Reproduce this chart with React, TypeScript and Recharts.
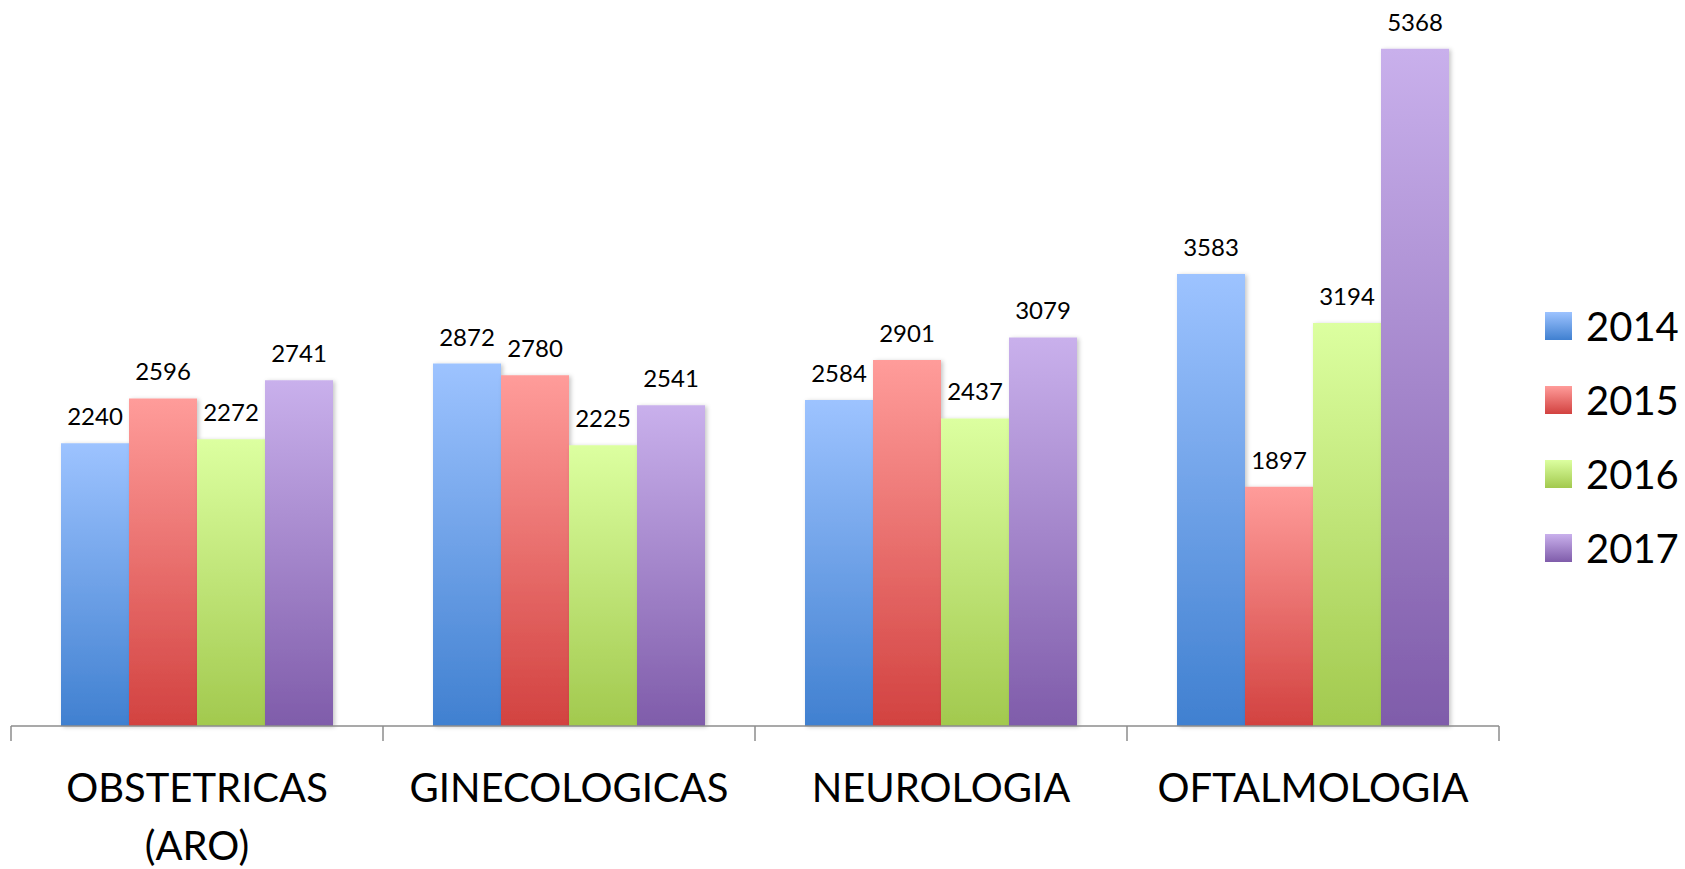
import React from "react";
import { BarChart, Bar, XAxis, YAxis, LabelList } from "recharts";

// data
const categories = ["OBSTETRICAS (ARO)", "GINECOLOGICAS", "NEUROLOGIA", "OFTALMOLOGIA"];
const categoryLines = [["OBSTETRICAS", "(ARO)"], ["GINECOLOGICAS"], ["NEUROLOGIA"], ["OFTALMOLOGIA"]];
const years = ["2014", "2015", "2016", "2017"];
const values2014 = [2240, 2872, 2584, 3583];
const values2015 = [2596, 2780, 2901, 1897];
const values2016 = [2272, 2225, 2437, 3194];
const values2017 = [2741, 2541, 3079, 5368];
const yDomainMax = 5500;

const seriesValues = [values2014, values2015, values2016, values2017];

// top / bottom stops of each bar gradient
const palette = [
  { top: "#9dc3ff", bottom: "#4080d0" },
  { top: "#ff9c9a", bottom: "#d24240" },
  { top: "#dcffa0", bottom: "#a2c94e" },
  { top: "#c9b0ec", bottom: "#7f5caa" },
];

const data = categories.map((name, i) => {
  const row: Record<string, string | number> = { name };
  years.forEach((y, s) => {
    row[y] = seriesValues[s][i];
  });
  return row;
});

const WIDTH = 1685;
const HEIGHT = 869;
const MARGIN = { top: 32, right: 186, left: 11, bottom: 0 };
const PLOT_WIDTH = WIDTH - MARGIN.left - MARGIN.right;
const BAND = PLOT_WIDTH / categories.length;
const FONT = "Lato, 'Open Sans', sans-serif";

function CategoryTick(props: any) {
  const { x, y, index } = props;
  const half = BAND / 2;
  const lines = categoryLines[index] || [];
  const isLast = index === categories.length - 1;
  return (
    <g>
      <line x1={x - half} x2={x - half} y1={y} y2={y + 15} stroke="#8c8c8c" strokeWidth={1.5} />
      {isLast && (
        <line x1={x + half} x2={x + half} y1={y} y2={y + 15} stroke="#8c8c8c" strokeWidth={1.5} />
      )}
      <text x={x} y={y + 76} textAnchor="middle" fontFamily={FONT} fontSize={40} fill="#000">
        {lines.map((l, i) => (
          <tspan key={l} x={x} dy={i === 0 ? 0 : 58}>
            {l}
          </tspan>
        ))}
      </text>
    </g>
  );
}

function LegendBox() {
  return (
    <div
      style={{
        position: "absolute",
        left: 1545,
        top: 306,
        fontFamily: FONT,
        fontSize: 40,
        lineHeight: "40px",
      }}
    >
      {years.map((y, i) => (
        <div key={y} style={{ display: "flex", alignItems: "center", height: 40, marginBottom: 34 }}>
          <div
            style={{
              width: 27,
              height: 28,
              background: `linear-gradient(${palette[i].top}, ${palette[i].bottom})`,
              marginRight: 14,
            }}
          />
          <span style={{ color: "#000" }}>{y}</span>
        </div>
      ))}
    </div>
  );
}

export default function App() {
  return (
    <div style={{ position: "absolute", left: 0, top: 0, width: WIDTH, height: HEIGHT, background: "#fff" }}>
      <BarChart
        width={WIDTH}
        height={HEIGHT}
        data={data}
        margin={MARGIN}
        barCategoryGap={50}
        barGap={0}
      >
        <defs>
          {palette.map((p, i) => (
            <linearGradient key={i} id={`grad${i}`} x1="0" y1="0" x2="0" y2="1">
              <stop offset="0%" stopColor={p.top} />
              <stop offset="100%" stopColor={p.bottom} />
            </linearGradient>
          ))}
          <filter id="barShadow" x="-10%" y="-5%" width="130%" height="110%">
            <feDropShadow dx={2} dy={1} stdDeviation={2} floodColor="#000" floodOpacity={0.22} />
          </filter>
        </defs>
        <XAxis
          dataKey="name"
          axisLine={{ stroke: "#8c8c8c", strokeWidth: 1.5 }}
          tickLine={false}
          tickSize={0}
          tickMargin={0}
          height={143}
          interval={0}
          tick={<CategoryTick />}
        />
        <YAxis hide domain={[0, yDomainMax]} />
        {years.map((y, i) => (
          <Bar
            key={y}
            dataKey={y}
            fill={`url(#grad${i})`}
            filter="url(#barShadow)"
            isAnimationActive={false}
          >
            <LabelList
              dataKey={y}
              position="top"
              offset={18}
              fill="#000"
              fontSize={24}
              fontFamily={FONT}
            />
          </Bar>
        ))}
      </BarChart>
      <LegendBox />
    </div>
  );
}
